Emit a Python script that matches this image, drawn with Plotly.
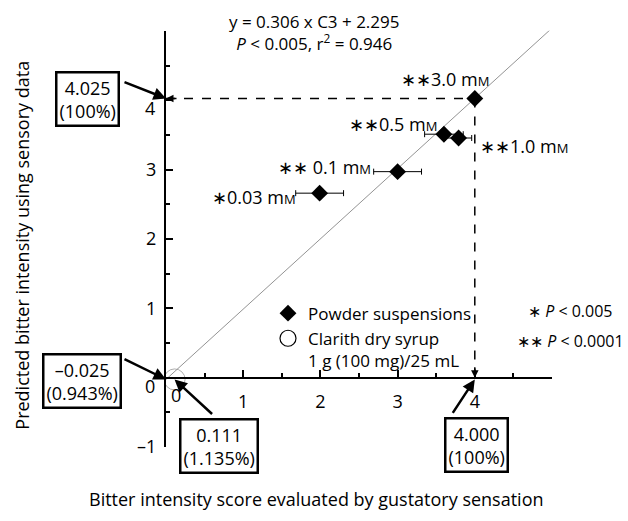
import plotly.graph_objects as go

# ---- data ----
conc_labels = ["∗0.03 m", "∗∗ 0.1 m", "∗∗0.5 m", "∗∗1.0 m", "∗∗3.0 m"]
sens_x = [1.99, 3.0, 3.6, 3.79, 4.0]          # gustatory score
pred_y = [2.66, 2.97, 3.51, 3.455, 4.025]     # predicted intensity
sens_err = [0.31, 0.31, 0.25, 0.17, 0.0]

clarith_x = [0.111]
clarith_y = [-0.025]

fit_x = [0.0, 5.0]
fit_y = [-0.025, 5.04]

ref_x = 4.0
ref_y = 4.025

x_ticks = [0, 1, 2, 3, 4, 5]
x_ticktext = ["", "1", "2", "3", "4", ""]
x_minor = [0.5, 1.5, 2.5, 3.5, 4.5]
y_ticks = [-1, 0, 1, 2, 3, 4, 5]
y_ticktext = ["–1", "", "1", "2", "3", "", ""]
y_minor = [-0.5, 0.5, 1.5, 2.5, 3.5, 4.5]
offset_labels = [("x", 0, "0"), ("y", 0, "0"), ("y", 4, "4")]

FONT = "Open Sans"
W, H = 628, 521

fig = go.Figure()

fig.add_trace(go.Scatter(x=fit_x, y=fit_y, mode="lines",
                         line=dict(color="#777777", width=0.8),
                         showlegend=False, hoverinfo="skip"))

fig.add_trace(go.Scatter(x=clarith_x, y=clarith_y, mode="markers",
                         marker=dict(symbol="circle-open", size=21,
                                     color="#999999", line=dict(width=0.8)),
                         showlegend=False))

fig.add_trace(go.Scatter(x=sens_x, y=pred_y, mode="markers",
                         marker=dict(symbol="diamond", size=13, color="black"),
                         error_x=dict(type="data", array=sens_err, visible=True,
                                      color="black", thickness=1, width=3),
                         showlegend=False))

# legend-only entries
fig.add_trace(go.Scatter(x=[None], y=[None], mode="markers",
                         name="Powder suspensions",
                         marker=dict(symbol="diamond", size=13, color="black")))
fig.add_trace(go.Scatter(x=[None], y=[None], mode="markers",
                         name="Clarith dry syrup<br>1 g (100 mg)/25 mL",
                         marker=dict(symbol="circle-open", size=16, color="black",
                                     line=dict(width=1.2))))

# dashed guide lines
fig.add_shape(type="line", x0=0, y0=ref_y, x1=ref_x, y1=ref_y, xref="x", yref="y",
              line=dict(color="black", width=1.5, dash="dash"))
fig.add_shape(type="line", x0=ref_x, y0=ref_y, x1=ref_x, y1=0, xref="x", yref="y",
              line=dict(color="black", width=1.5, dash="dash"))

ann = []
# small arrowheads at the end of guide lines
ann.append(dict(x=0, y=ref_y, xref="x", yref="y", text="", showarrow=True,
                ax=12, ay=0, arrowhead=2, arrowsize=1, arrowwidth=1.5, arrowcolor="black"))
ann.append(dict(x=ref_x, y=0, xref="x", yref="y", text="", showarrow=True,
                ax=0, ay=-12, arrowhead=2, arrowsize=1, arrowwidth=1.5, arrowcolor="black"))

# callout boxes: (target x, target y, text, box xshift, box yshift, arrow ax, arrow ay)
boxes = [
    (0, ref_y, "4.025<br>(100%)", -78.5, -1, -43, -17),
    (0, clarith_y[0], "–0.025<br>(0.943%)", -84, -2, -43, -21),
    (clarith_x[0], clarith_y[0], "0.111<br>(1.135%)", 44, -67, 39, 36),
    (ref_x, clarith_y[0], "4.000<br>(100%)", 1.5, -66, -23, 35),
]
for bx, by, txt, xs, ys, axo, ayo in boxes:
    ann.append(dict(x=bx, y=by, xref="x", yref="y", text=txt, showarrow=False,
                    xshift=xs, yshift=ys, bordercolor="black", borderwidth=2.5,
                    borderpad=2, bgcolor="white",
                    font=dict(family=FONT, size=18, color="black")))
    ann.append(dict(x=bx, y=by, xref="x", yref="y", text="", showarrow=True,
                    ax=axo, ay=ayo, arrowhead=2, arrowsize=1, arrowwidth=2.5,
                    arrowcolor="black"))

# point labels
small_M = "<span style='font-size:13px'>M</span>"
label_pos = [  # xanchor, xshift, yshift
    ("right", -22, -4),
    ("right", -25, 5),
    ("right", -5, 10),
    ("left", 19, -8),
    ("center", -30, 19),
]
for lx, ly, lt, (xa, xs, ys) in zip(sens_x, pred_y, conc_labels, label_pos):
    ann.append(dict(x=lx, y=ly, xref="x", yref="y", text=lt + small_M,
                    showarrow=False, xanchor=xa, yanchor="middle", xshift=xs, yshift=ys,
                    font=dict(family=FONT, size=18, color="black")))

# tick labels drawn slightly off their ticks (as in the original)
for ax_name, val, txt in offset_labels:
    if ax_name == "x":
        ann.append(dict(x=val, y=0, xref="x", yref="y", text=txt, showarrow=False,
                        xanchor="center", yanchor="middle", xshift=10, yshift=-17,
                        font=dict(family=FONT, size=18, color="black")))
    else:
        ann.append(dict(x=0, y=val, xref="x", yref="y", text=txt, showarrow=False,
                        xanchor="right", yanchor="middle", xshift=-9, yshift=-8,
                        font=dict(family=FONT, size=18, color="black")))

# equation
ann.append(dict(x=314 / W, y=1 - 32.7 / H, xref="paper", yref="paper",
                xanchor="center", yanchor="middle",
                text="y = 0.306 x C3 + 2.295<br><i>P</i> < 0.005, r<sup>2</sup> = 0.946",
                showarrow=False, font=dict(family=FONT, size=17, color="black")))

# significance note
ann.append(dict(x=526 / W, y=1 - 318 / H, xref="paper", yref="paper",
                xanchor="left", yanchor="middle",
                text="∗ <i>P</i> < 0.005", showarrow=False,
                font=dict(family=FONT, size=16, color="black")))
ann.append(dict(x=515 / W, y=1 - 348 / H, xref="paper", yref="paper",
                xanchor="left", yanchor="middle",
                text="∗∗ <i>P</i> < 0.0001", showarrow=False,
                font=dict(family=FONT, size=16, color="black")))

# axis titles
ann.append(dict(x=316 / W, y=1 - 510 / H, xref="paper", yref="paper",
                xanchor="center", yanchor="middle",
                text="Bitter intensity score evaluated by gustatory sensation",
                showarrow=False, font=dict(family=FONT, size=18, color="black")))
ann.append(dict(x=22 / W, y=1 - 251 / H, xref="paper", yref="paper", textangle=-90,
                xanchor="center", yanchor="middle",
                text="Predicted bitter intensity using sensory data",
                showarrow=False, font=dict(family=FONT, size=18, color="black")))

x_dom = [166 / W, 552 / W]
y_dom = [(H - 456.7) / H, (H - 31.5) / H]
y0_pix = 456.7 - (456.7 - 31.5) / 6.0

axis_common = dict(showgrid=False, zeroline=False, showline=True, linecolor="black",
                   linewidth=2, ticks="inside", ticklen=7, tickwidth=2, tickcolor="black",
                   tickfont=dict(family=FONT, size=18, color="black"), tickmode="array")

fig.update_layout(
    width=W, height=H,
    margin=dict(l=0, r=0, t=0, b=0),
    paper_bgcolor="white", plot_bgcolor="white",
    xaxis=dict(range=[0, 5], domain=x_dom, anchor="free", position=(H - y0_pix) / H,
               tickvals=x_ticks, ticktext=x_ticktext, ticklabelstandoff=8,
               minor=dict(tickvals=x_minor, ticks="inside", ticklen=4, tickwidth=1.5,
                          tickcolor="black"),
               **axis_common),
    yaxis=dict(range=[-1, 5], domain=y_dom, anchor="x",
               tickvals=y_ticks, ticktext=y_ticktext, ticklabelstandoff=4,
               minor=dict(tickvals=y_minor, ticks="inside", ticklen=4, tickwidth=1.5,
                          tickcolor="black"),
               **axis_common),
    legend=dict(x=268 / W, y=1 - 302 / H, xanchor="left", yanchor="top",
                bgcolor="rgba(0,0,0,0)", font=dict(family=FONT, size=17, color="black"),
                valign="top", tracegroupgap=2, itemwidth=30),
    annotations=ann,
    showlegend=True,
)

fig.write_html("out.html")
